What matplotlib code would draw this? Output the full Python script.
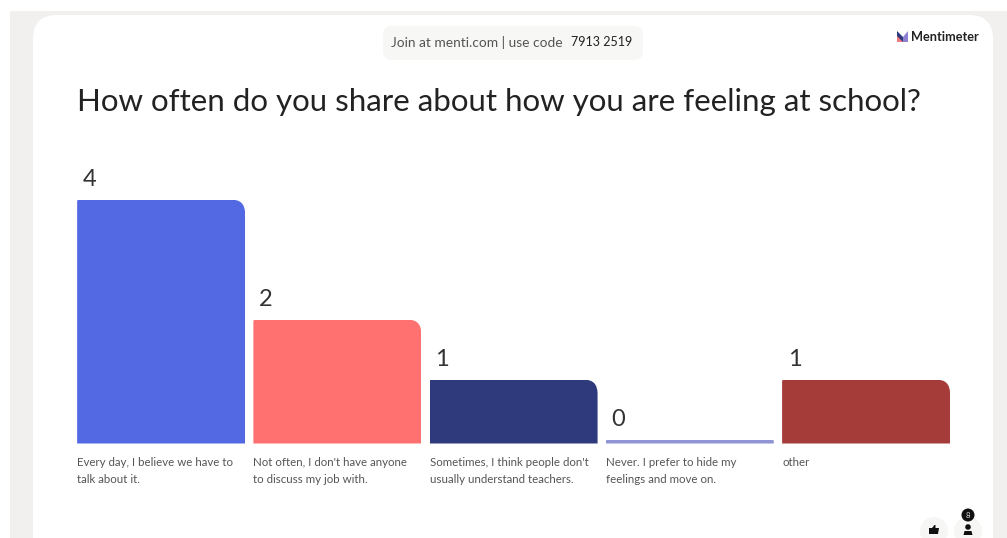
import matplotlib
matplotlib.use('Agg')
import matplotlib.pyplot as plt
from matplotlib.patches import FancyBboxPatch, Rectangle, Circle, Polygon
from matplotlib.path import Path
from matplotlib.patches import PathPatch

# dados do gráfico
titulo = 'How often do you share about how you are feeling at school?'
categorias = ['Every day, I believe we have to\ntalk about it.',
              "Not often, I don't have anyone\nto discuss my job with.",
              "Sometimes, I think people don't\nusually understand teachers.",
              'Never. I prefer to hide my\nfeelings and move on.',
              'other']
valores = [4, 2, 1, 0, 1]
cores = ['#5369e4', '#ff7171', '#2f3a7c', '#8f94d4', '#a53c3a']

W, H = 1007, 538
FONTE = 'Lato'

fig = plt.figure(figsize=(W / 100, H / 100), dpi=100, facecolor='white')

# fundo e decoração em coordenadas de pixel
bg = fig.add_axes([0, 0, 1, 1])
bg.set_xlim(0, W)
bg.set_ylim(H, 0)
bg.axis('off')
bg.add_patch(Rectangle((10, 11), W - 10, H, color='#f1f0ee', lw=0))
bg.add_patch(FancyBboxPatch((33, 15), 960, 600, boxstyle='round,pad=0,rounding_size=24',
                            fc='white', ec='none'))
bg.add_patch(FancyBboxPatch((383, 26), 260, 34, boxstyle='round,pad=0,rounding_size=9',
                            fc='#f7f7f5', ec='none'))
bg.text(391, 42.5, 'Join at menti.com | use code', fontsize=9.9, family=FONTE,
        color='#555555', va='center')
bg.text(571, 42.5, '7913 2519', fontsize=9.0, family=FONTE, color='#222222', va='center')
bg.text(77, 102.5, titulo, fontsize=22.5, family=FONTE, color='#222222', va='center')

# logo
bg.add_patch(Polygon([(897, 31), (903, 37), (903, 42), (897, 42)], color='#2f3a7c', lw=0))
bg.add_patch(Polygon([(897, 36), (903, 42), (897, 42)], color='#f07a80', lw=0))
bg.add_patch(Polygon([(903, 37), (908, 31), (908, 42), (903, 42)], color='#8f7fd0', lw=0))
bg.text(911, 37, 'Mentimeter', fontsize=9.2, family=FONTE, color='#222222',
        va='center', fontweight='bold')

# botões do canto inferior
bg.add_patch(Circle((934, 531), 14, color='#f6f6f4', lw=0))
bg.add_patch(Circle((968, 531), 14, color='#f6f6f4', lw=0))
bg.add_patch(Rectangle((929, 528), 2.5, 6, color='#111111', lw=0))
bg.add_patch(Polygon([(932, 528), (934.5, 525), (935.5, 525), (935.5, 528), (939, 528),
                      (938, 534), (932, 534)], color='#111111', lw=0))
bg.add_patch(Circle((968, 515), 6.5, color='#111111', lw=0))
bg.text(968, 515, '8', fontsize=5.5, color='#dddddd', ha='center', va='center', family=FONTE)
bg.add_patch(Circle((968, 527), 2.8, color='#111111', lw=0))
bg.add_patch(Polygon([(963.5, 535), (964.5, 531), (971.5, 531), (972.5, 535)],
                     color='#111111', lw=0))

PX_X = 176.25  # pixels por unidade de x
PX_Y = 60.0    # pixels por unidade de y
BASE = -4 / PX_Y  # toda barra tem 4 px abaixo do zero, por isso o zero aparece como linha

# eixo das barras: vai de y=443.5 (base) até y=199.5 (valor 4)
ax = fig.add_axes([73 / W, (H - 443.5) / H, 881.2 / W, 244 / H])
ax.patch.set_alpha(0)
ax.set_xlim(-0.5, 4.5)
ax.set_ylim(BASE, 4)
ax.axis('off')

LARG = 0.953

for i, (v, cor, cat) in enumerate(zip(valores, cores, categorias)):
    barra = ax.bar(i, v - BASE, bottom=BASE, width=LARG, color=cor, linewidth=0)[0]
    x0, x1 = i - LARG / 2, i + LARG / 2
    # canto direito bem arredondado, esquerdo quase reto
    r_dir = min(14, (v - BASE) * PX_Y / 2)
    r_esq = 2
    contorno = Path([(x0, BASE), (x0, v - r_esq / PX_Y), (x0, v), (x0 + r_esq / PX_X, v),
                     (x1 - r_dir / PX_X, v), (x1, v), (x1, v - r_dir / PX_Y), (x1, BASE), (x0, BASE)],
                    [Path.MOVETO, Path.LINETO, Path.CURVE3, Path.CURVE3, Path.LINETO,
                     Path.CURVE3, Path.CURVE3, Path.LINETO, Path.CLOSEPOLY])
    barra.set_clip_path(PathPatch(contorno, transform=ax.transData))
    ax.annotate(str(v), (x0, v), xytext=(4, 7), textcoords='offset points',
                fontsize=17, family=FONTE, color='#333333', va='bottom', ha='left',
                annotation_clip=False)
    ax.annotate(cat, (x0, BASE), xytext=(0, -9.5), textcoords='offset points',
                fontsize=8.25, family=FONTE, color='#555555', va='top', ha='left',
                linespacing=1.75, annotation_clip=False)

fig.savefig('out.png', dpi=100, facecolor='white')
